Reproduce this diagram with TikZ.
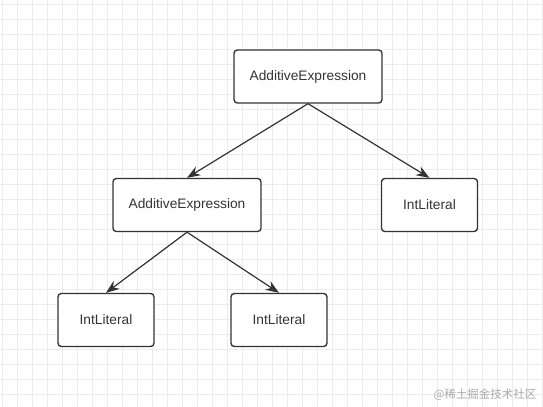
\documentclass[tikz,border=0pt]{standalone}
\usepackage{fontspec}
\setmainfont{Liberation Sans}
\newfontfamily\cjk{Noto Sans CJK SC}
\usetikzlibrary{arrows.meta}
\definecolor{gridgray}{RGB}{236,236,236}
\definecolor{boxline}{RGB}{51,51,51}
\definecolor{markgray}{RGB}{170,170,170}

\tikzset{
  treebox/.style={draw=boxline, line width=1pt, rounded corners=2.5pt, fill=white,
    minimum height=39.75pt, font=\fontsize{10.3}{12}\selectfont, text=black!80},
  widebox/.style={treebox, minimum width=111pt},
  leafbox/.style={treebox, minimum width=72pt},
  edge/.style={draw=boxline, line width=0.9pt, -{Stealth[length=10pt, width=7.5pt]}},
}

\begin{document}
\begin{tikzpicture}[x=0.75pt, y=-0.75pt]
  \useasboundingbox (0,0) rectangle (543,407);
  \fill[white] (0,0) rectangle (543,407);
  % background grid
  \foreach \gx in {2,17,...,542}
    \draw[gridgray, line width=0.6pt] (\gx,0) -- (\gx,407);
  \foreach \gy in {4,19,...,406}
    \draw[gridgray, line width=0.6pt] (0,\gy) -- (543,\gy);

  % nodes
  \node[widebox] (root) at (308,76.5) {AdditiveExpression};
  \node[widebox] (inner) at (187,205) {AdditiveExpression};
  \node[leafbox] (lit1) at (429.5,205) {IntLiteral};
  \node[leafbox] (lit2) at (106,320) {IntLiteral};
  \node[leafbox] (lit3) at (279,320) {IntLiteral};

  % edges
  \draw[edge] (root.south) -- (inner.north);
  \draw[edge] (root.south) -- (lit1.north);
  \draw[edge] (inner.south) -- (lit2.north);
  \draw[edge] (inner.south) -- (lit3.north);

  % watermark
  \node[font=\cjk\fontsize{8.6}{10}\selectfont, text=markgray, anchor=east] (mark) at (541,395) {@稀土掘金技术社区};
\end{tikzpicture}
\end{document}
